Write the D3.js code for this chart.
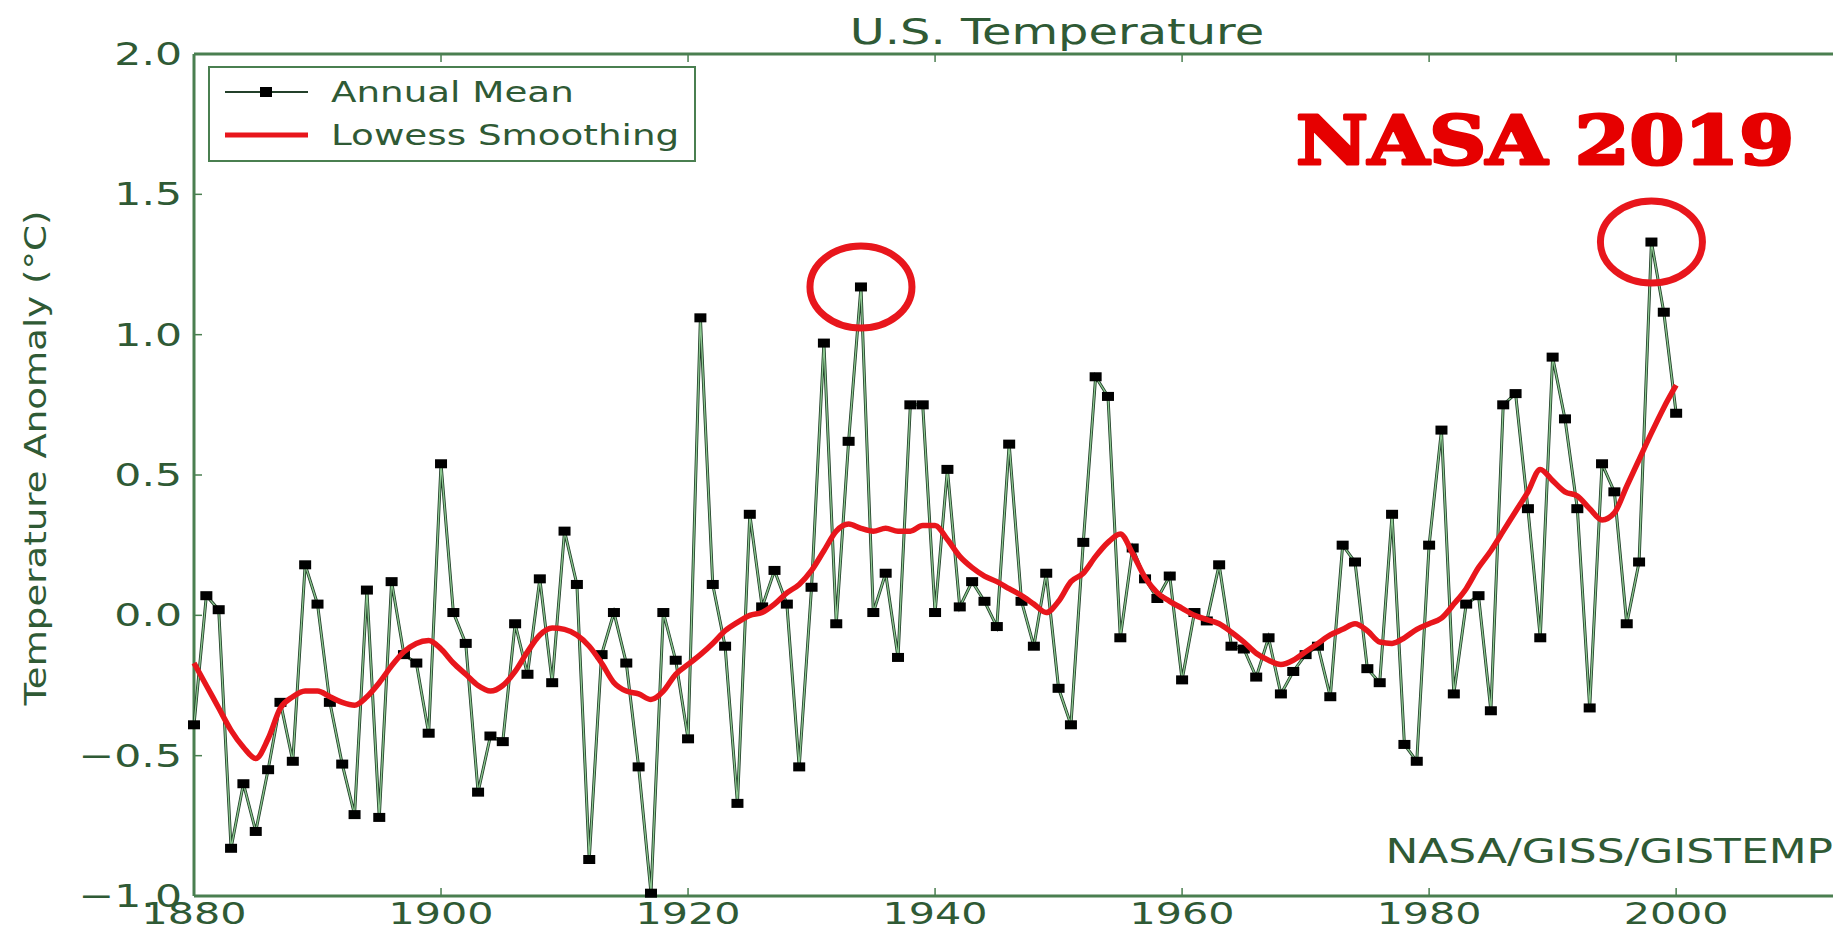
<!DOCTYPE html>
<html>
<head>
<meta charset="utf-8">
<title>U.S. Temperature</title>
<script src="https://cdn.jsdelivr.net/npm/d3@7"></script>
<style>
  body { margin: 0; background: #fff; }
  svg { display: block; }
  text { font-family: "DejaVu Sans", sans-serif; fill: #2f5a35; }
</style>
</head>
<body>
<div id="chartWrapper"></div>
<script>
// Data
const firstYear = 1880;
const annualMean = [
  -0.39, 0.07, 0.02, -0.83, -0.60, -0.77, -0.55, -0.31, -0.52, 0.18,
  0.04, -0.31, -0.53, -0.71, 0.09, -0.72, 0.12, -0.14, -0.17, -0.42,
  0.54, 0.01, -0.10, -0.63, -0.43, -0.45, -0.03, -0.21, 0.13, -0.24,
  0.30, 0.11, -0.87, -0.14, 0.01, -0.17, -0.54, -0.99, 0.01, -0.16,
  -0.44, 1.06, 0.11, -0.11, -0.67, 0.36, 0.03, 0.16, 0.04, -0.54,
  0.10, 0.97, -0.03, 0.62, 1.17, 0.01, 0.15, -0.15, 0.75, 0.75,
  0.01, 0.52, 0.03, 0.12, 0.05, -0.04, 0.61, 0.05, -0.11, 0.15,
  -0.26, -0.39, 0.26, 0.85, 0.78, -0.08, 0.24, 0.13, 0.06, 0.14,
  -0.23, 0.01, -0.02, 0.18, -0.11, -0.12, -0.22, -0.08, -0.28, -0.20,
  -0.14, -0.11, -0.29, 0.25, 0.19, -0.19, -0.24, 0.36, -0.46, -0.52,
  0.25, 0.66, -0.28, 0.04, 0.07, -0.34, 0.75, 0.79, 0.38, -0.08,
  0.92, 0.70, 0.38, -0.33, 0.54, 0.44, -0.03, 0.19, 1.33, 1.08,
  0.72
];
const lowess = [
  -0.17, -0.25, -0.33, -0.41, -0.47, -0.51, -0.44, -0.33, -0.29, -0.27,
  -0.27, -0.29, -0.31, -0.32, -0.29, -0.24, -0.18, -0.13, -0.10, -0.09,
  -0.12, -0.17, -0.21, -0.25, -0.27, -0.25, -0.20, -0.13, -0.07, -0.045,
  -0.05, -0.07, -0.11, -0.17, -0.24, -0.27, -0.28, -0.30, -0.27, -0.21,
  -0.175, -0.14, -0.10, -0.055, -0.025, 0.0, 0.01, 0.04, 0.08, 0.11,
  0.16, 0.23, 0.30, 0.325, 0.31, 0.30, 0.31, 0.30, 0.30, 0.32,
  0.32, 0.27, 0.21, 0.17, 0.14, 0.12, 0.095, 0.07, 0.04, 0.01,
  0.05, 0.12, 0.15, 0.21, 0.26, 0.29, 0.22, 0.135, 0.08, 0.05,
  0.025, 0.0, -0.015, -0.03, -0.06, -0.095, -0.135, -0.16, -0.175, -0.16,
  -0.13, -0.10, -0.07, -0.05, -0.03, -0.055, -0.095, -0.10, -0.08, -0.05,
  -0.03, -0.01, 0.04, 0.095, 0.17, 0.23, 0.30, 0.37, 0.44, 0.52,
  0.48, 0.44, 0.425, 0.38, 0.34, 0.365, 0.46, 0.555, 0.65, 0.74,
  0.82
];
const xTicks = [1880, 1900, 1920, 1940, 1960, 1980, 2000];
const yTicks = [-1.0, -0.5, 0.0, 0.5, 1.0, 1.5, 2.0];
const circledYears = [1934, 1998];
const seriesNames = ["Annual Mean", "Lowess Smoothing"];

const meanData = annualMean.map((v, i) => ({ year: firstYear + i, v }));
const lowessData = lowess.map((v, i) => ({ year: firstYear + i, v }));

// Dimensions
const W = 1841, H = 933;
const plot = { left: 194, right: 1833, top: 54, bottom: 896 };
const stretchX = 1.33;   // the source picture is widened, so are its glyphs
const frameColor = "#4a7f50";
const red = "#e8161c";

// Scales
const xScale = d3.scaleLinear()
  .domain([1880, 2012.7])
  .range([plot.left, plot.right]);

const yScale = d3.scaleLinear()
  .domain([-1, 2])
  .range([plot.bottom, plot.top]);

const svg = d3.select("#chartWrapper").append("svg")
  .attr("width", W)
  .attr("height", H);

// widen a text by the picture's stretch
function widen(sel) {
  sel.each(function () {
    const len = this.getComputedTextLength();
    d3.select(this)
      .attr("textLength", len * stretchX)
      .attr("lengthAdjust", "spacingAndGlyphs");
  });
  return sel;
}

const fmt = d => d3.format(".1f")(d).replace("-", "\u2212");

// Frame (no right spine in the picture)
[[plot.left, plot.top, plot.right, plot.top],
 [plot.left, plot.bottom, plot.right, plot.bottom],
 [plot.left, plot.top, plot.left, plot.bottom]].forEach(s => {
  svg.append("line")
    .attr("x1", s[0]).attr("y1", s[1])
    .attr("x2", s[2]).attr("y2", s[3])
    .attr("stroke", frameColor).attr("stroke-width", 3);
});

// X axis ticks (bottom and top, inward)
const xAxisG = svg.append("g").attr("class", "x axis");
xAxisG.selectAll(".tickB")
  .data(xTicks)
  .enter().append("line")
  .attr("x1", d => xScale(d)).attr("x2", d => xScale(d))
  .attr("y1", plot.bottom).attr("y2", plot.bottom - 8)
  .attr("stroke", frameColor).attr("stroke-width", 1.5);
xAxisG.selectAll(".tickT")
  .data(xTicks)
  .enter().append("line")
  .attr("x1", d => xScale(d)).attr("x2", d => xScale(d))
  .attr("y1", plot.top).attr("y2", plot.top + 8)
  .attr("stroke", frameColor).attr("stroke-width", 1.5);
xAxisG.selectAll("text")
  .data(xTicks)
  .enter().append("text")
  .attr("x", d => xScale(d))
  .attr("y", 924)
  .attr("text-anchor", "middle")
  .style("font-size", "31px")
  .text(d => d)
  .call(widen);

// Y axis ticks
const yAxisG = svg.append("g").attr("class", "y axis");
yAxisG.selectAll("line")
  .data(yTicks)
  .enter().append("line")
  .attr("x1", plot.left).attr("x2", plot.left + 8)
  .attr("y1", d => yScale(d)).attr("y2", d => yScale(d))
  .attr("stroke", frameColor).attr("stroke-width", 1.5);
yAxisG.selectAll("text")
  .data(yTicks)
  .enter().append("text")
  .attr("x", 182)
  .attr("y", d => yScale(d) + 11)
  .attr("text-anchor", "end")
  .style("font-size", "32px")
  .text(fmt)
  .call(widen);

// Axis title
svg.append("text")
  .attr("transform", `translate(46, 458) rotate(-90)`)
  .attr("text-anchor", "middle")
  .style("font-size", "30px")
  .attr("textLength", 495)
  .attr("lengthAdjust", "spacingAndGlyphs")
  .text("Temperature Anomaly (\u00B0C)");

// Title
svg.append("text")
  .attr("x", 1057)
  .attr("y", 44)
  .attr("text-anchor", "middle")
  .style("font-size", "36px")
  .text("U.S. Temperature")
  .call(widen);

// Annual mean line + markers
const meanLine = d3.line()
  .x(d => xScale(d.year))
  .y(d => yScale(d.v));

svg.append("path")
  .datum(meanData)
  .attr("d", meanLine)
  .attr("fill", "none")
  .attr("stroke", "#23402a")
  .attr("stroke-width", 3);
svg.append("path")
  .datum(meanData)
  .attr("d", meanLine)
  .attr("fill", "none")
  .attr("stroke", "#8cc890")
  .attr("stroke-width", 1.3);

svg.selectAll(".marker")
  .data(meanData)
  .enter().append("rect")
  .attr("class", "marker")
  .attr("x", d => xScale(d.year) - 6)
  .attr("y", d => yScale(d.v) - 4.5)
  .attr("width", 12)
  .attr("height", 9)
  .attr("fill", "#000");

// Lowess smoothing
const lowessLine = d3.line()
  .x(d => xScale(d.year))
  .y(d => yScale(d.v))
  .curve(d3.curveMonotoneX);

svg.append("path")
  .datum(lowessData)
  .attr("d", lowessLine)
  .attr("fill", "none")
  .attr("stroke", red)
  .attr("stroke-width", 5.5)
  .attr("stroke-linejoin", "round");

// Red circles around the two peaks
svg.selectAll(".ring")
  .data(meanData.filter(d => circledYears.includes(d.year)))
  .enter().append("ellipse")
  .attr("class", "ring")
  .attr("cx", d => xScale(d.year))
  .attr("cy", d => yScale(d.v))
  .attr("rx", 51)
  .attr("ry", 41)
  .attr("fill", "none")
  .attr("stroke", red)
  .attr("stroke-width", 7);

// Legend
const legend = svg.append("g").attr("class", "legend");
legend.append("rect")
  .attr("x", 209).attr("y", 67)
  .attr("width", 486).attr("height", 94)
  .attr("fill", "#fff")
  .attr("stroke", frameColor)
  .attr("stroke-width", 2);

const rows = [92, 135];
legend.append("line")
  .attr("x1", 225).attr("x2", 308)
  .attr("y1", rows[0]).attr("y2", rows[0])
  .attr("stroke", "#23402a").attr("stroke-width", 2);
legend.append("rect")
  .attr("x", 260).attr("y", rows[0] - 5)
  .attr("width", 12).attr("height", 10)
  .attr("fill", "#000");
legend.append("line")
  .attr("x1", 225).attr("x2", 308)
  .attr("y1", rows[1]).attr("y2", rows[1])
  .attr("stroke", red).attr("stroke-width", 5);

legend.selectAll("text")
  .data(seriesNames)
  .enter().append("text")
  .attr("x", 331)
  .attr("y", (d, i) => rows[i] + 10)
  .style("font-size", "28px")
  .text(d => d)
  .call(widen);

// Source note
svg.append("text")
  .attr("x", 1833)
  .attr("y", 863)
  .attr("text-anchor", "end")
  .style("font-size", "33px")
  .text("NASA/GISS/GISTEMP")
  .call(widen);

// Stamp
svg.append("text")
  .attr("x", 1296)
  .attr("y", 164)
  .style("font-family", "'DejaVu Serif', serif")
  .style("font-weight", "bold")
  .style("font-size", "68px")
  .style("fill", "#e60000")
  .attr("stroke", "#e60000")
  .attr("stroke-width", 3)
  .attr("stroke-linejoin", "round")
  .attr("textLength", 498)
  .attr("lengthAdjust", "spacingAndGlyphs")
  .text("NASA 2019");
</script>
</body>
</html>
